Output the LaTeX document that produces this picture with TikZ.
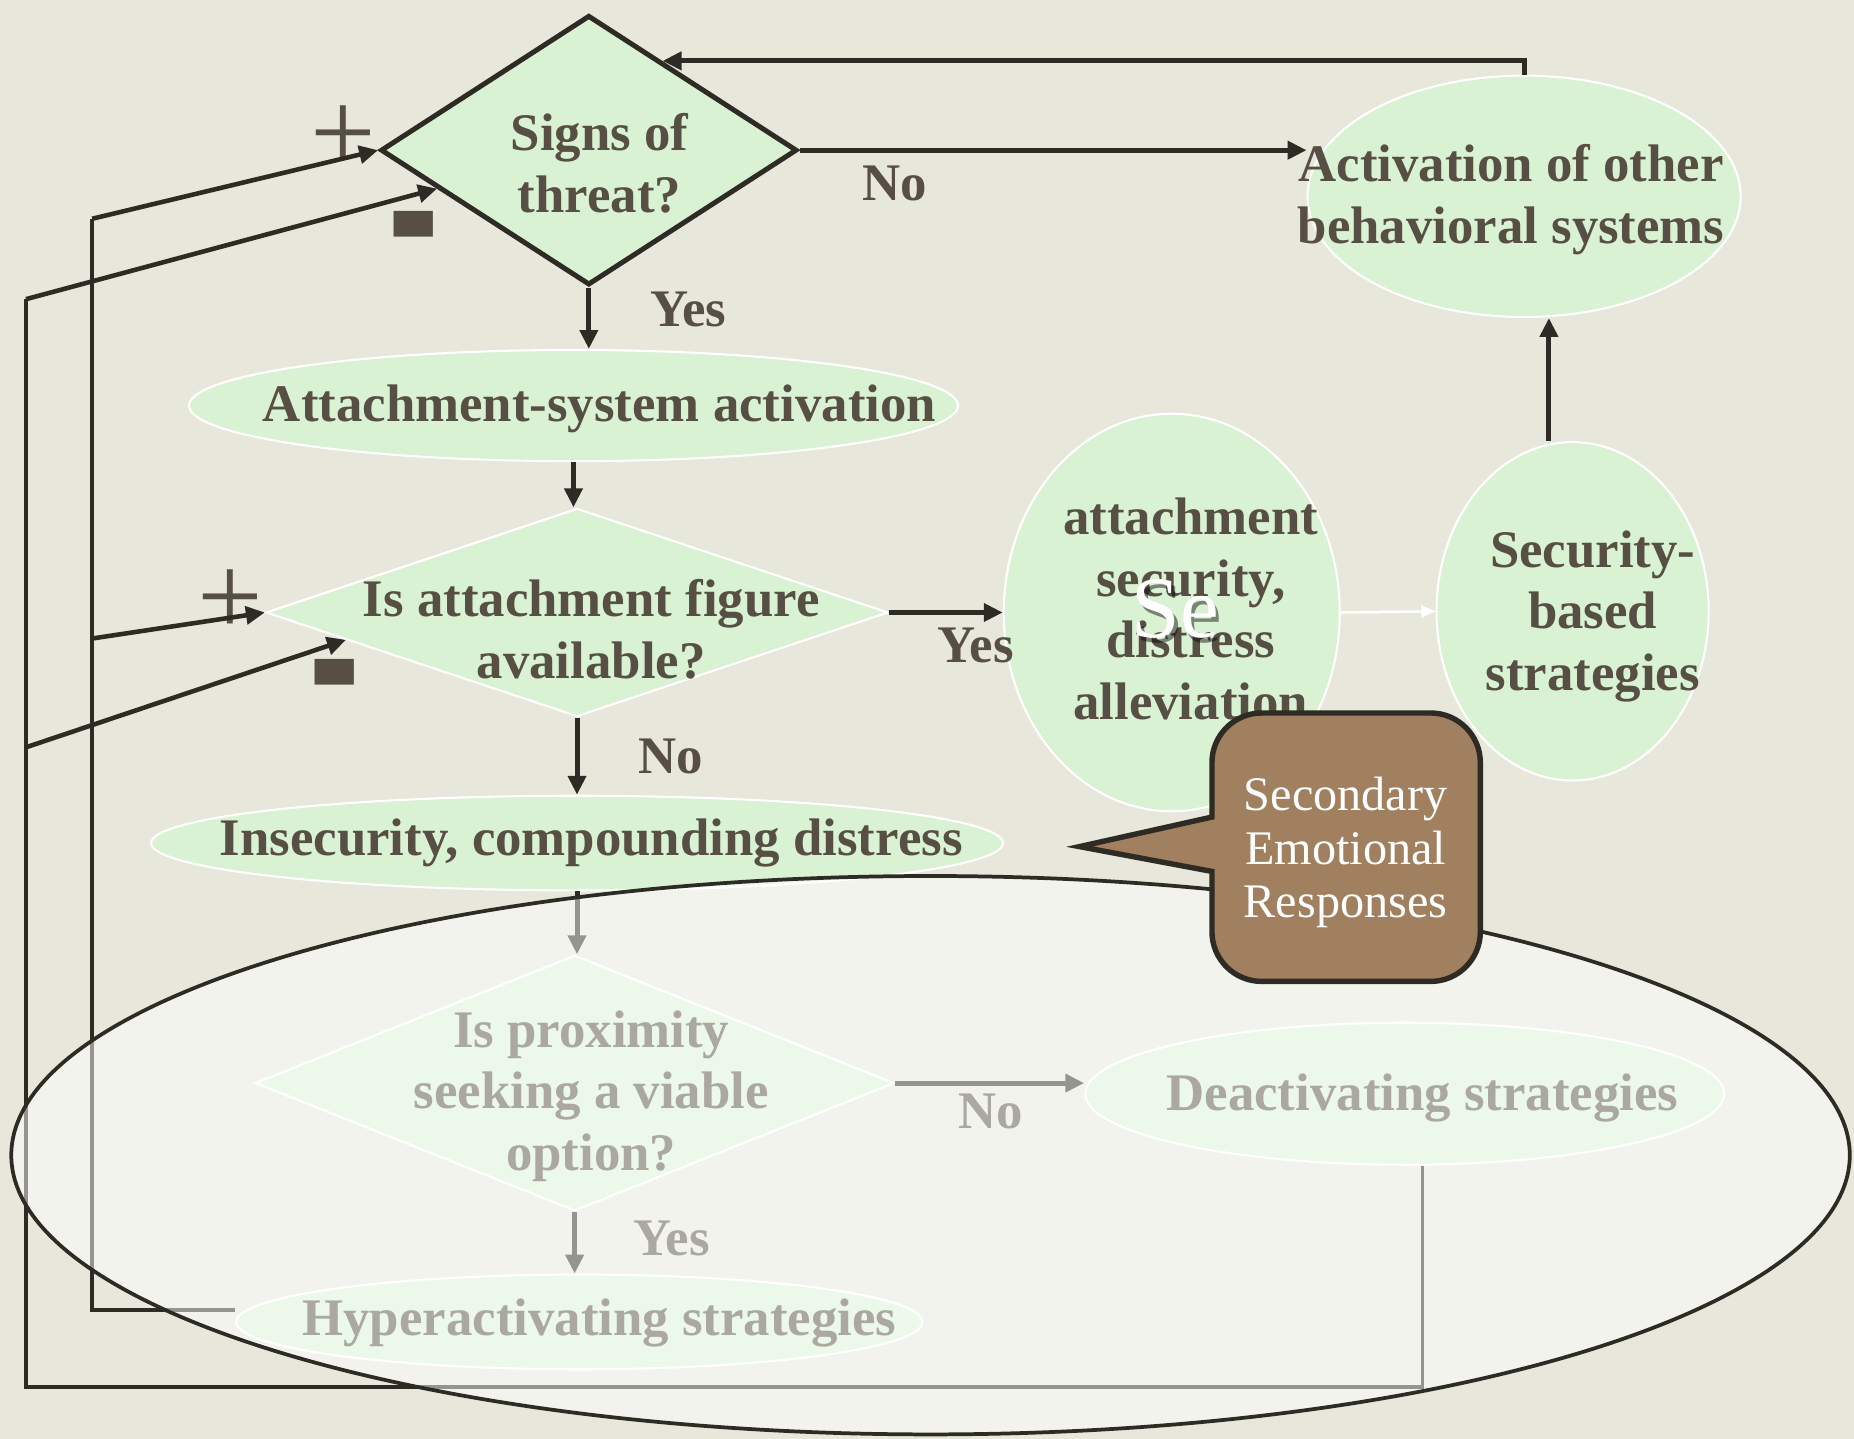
\documentclass[tikz,border=0pt]{standalone}
\usepackage{fontspec}
\setmainfont{Liberation Serif}
\usepackage{graphicx}
\usepackage{tikz}
\usetikzlibrary{arrows.meta}
\usetikzlibrary{shapes.geometric}
\usepackage{xcolor}
\definecolor{paper}{HTML}{E8E7DC}
\definecolor{leaf}{HTML}{D9F2D4}
\definecolor{ink}{HTML}{2E2A24}
\definecolor{lettering}{HTML}{574F44}
\definecolor{bark}{HTML}{A0805F}

\begin{document}
\begin{tikzpicture}[x=0.01cm,y=-0.01cm,
  every node/.style={font=\fontsize{12.7}{14.8}\selectfont\bfseries, text=lettering},
  bubble/.style={shape=ellipse, fill=leaf, draw=white, line width=0.5pt, inner sep=0pt},
  rhomb/.style={shape=diamond, fill=leaf, draw=white, line width=0.5pt, inner sep=0pt},
  word/.style={align=center, inner sep=0pt},
  arr/.style={draw=ink, line width=1.2pt, -{Triangle[length=0.16cm,width=0.15cm]}},
  feed/.style={draw=ink, line width=1.1pt, -{Triangle[length=0.16cm,width=0.15cm]}},
  rail/.style={draw=ink, line width=0.9pt},
  sign/.style={font=\fontsize{28}{28}\selectfont, inner sep=0pt},
  minus/.style={font=\fontsize{28}{28}\selectfont\bfseries, inner sep=0pt}
]
  \fill[paper] (0,0) rectangle (1568,1217);

  %%%%%%% SHAPES
  \node[rhomb, draw=ink, line width=1.2pt, minimum width=3.52cm, minimum height=2.28cm] (threat) at (498,127) {};
  \node[bubble, minimum width=3.66cm, minimum height=2.04cm] (other) at (1289,166) {};
  \node[bubble, minimum width=6.5cm, minimum height=0.94cm] (act) at (485,343) {};
  \node[rhomb, minimum width=5.26cm, minimum height=1.76cm] (avail) at (488,518) {};
  \node[bubble, minimum width=2.84cm, minimum height=3.36cm] (secure) at (991,518) {};
  \node[bubble, minimum width=2.30cm, minimum height=2.86cm] (secbased) at (1330,517) {};
  \node[bubble, minimum width=7.2cm, minimum height=0.80cm] (insec) at (488,713) {};
  \node[rhomb, minimum width=5.40cm, minimum height=2.16cm] (prox) at (486,916) {};
  \node[bubble, minimum width=5.40cm, minimum height=1.20cm] (deact) at (1188,925) {};
  \node[bubble, minimum width=5.80cm, minimum height=0.80cm] (hyper) at (490,1118) {};

  %%%%%%% TEXTS
  \node[word] (threat-t) at (507,138) {Signs of\\threat?};
  \node[word] (other-t) at (1278,169) {Activation of other\\behavioral systems};
  \node[word] (act-t) at (507,346) {Attachment-system activation};
  \node[word] (avail-t) at (500,532) {Is attachment figure\\available?};
  \node[word] (secure-t) at (1007,515) {attachment\\security,\\distress\\alleviation};
  \node[font=\fontsize{21}{21}\selectfont, text=black, text opacity=0.45] (se-s) at (997,519) {Se};
  \node[font=\fontsize{21}{21}\selectfont, text=white] (se) at (994,515) {Se};
  \node[word] (secbased-t) at (1347,521) {Security-\\based\\strategies};
  \node[word] (insec-t) at (500,713) {Insecurity, compounding distress};
  \node[word] (prox-t) at (500,927) {Is proximity\\seeking a viable\\option?};
  \node[word] (deact-t) at (1203,929) {Deactivating strategies};
  \node[word] (hyper-t) at (507,1119) {Hyperactivating strategies};

  \node (yes1) at (582,262) {Yes};
  \node (no1) at (757,155) {No};
  \node (yes2) at (825,546) {Yes};
  \node (no2) at (567,640) {No};
  \node (no3) at (838,940) {No};
  \node (yes3) at (568,1047) {Yes};

  \node[sign] (plus1) at (290,117) {+};
  \node[minus] (minus1) at (350,214) {\scalebox{1.3}[2.6]{-}};
  \node[sign] (plus2) at (195,510) {+};
  \node[minus] (minus2) at (283,593) {\scalebox{1.3}[2.6]{-}};

  %%%%%%% ARROWS
  \draw[arr] (threat.south) -- (threat.south |- act.north);
  \draw[arr] (act.south) -- (act.south |- avail.north);
  \draw[arr] (avail.south) -- (avail.south |- insec.north);
  \draw[arr] (avail.east) -- (secure.west);
  \draw[white, line width=0.6pt, -{Triangle[length=0.12cm,width=0.1cm]}] (secure.east) -- (secbased.west);
  \draw[arr] ([xshift=-0.2cm]secbased.north) -- ([xshift=-0.2cm]secbased.north |- other.south);
  \draw[arr] (threat.east) -- (threat.east -| other.west);
  \path (threat.north) -- (threat.east) coordinate[pos=0.35] (threat-in);
  \draw[arr] (other.north) |- (threat-in);
  \draw[arr] (insec.south) -- (insec.south |- prox.north);
  \draw[arr] (prox.east) -- (prox.east -| deact.west);
  \draw[arr] (prox.south) -- (prox.south |- hyper.north);

  %%%%%%% LOOPS
  \coordinate (plusrail) at (78,185);
  \coordinate (plusfork) at (78,540);
  \draw[rail] ([yshift=.1cm]hyper.west) -| (plusrail);
  \draw[feed] (plusrail) -- (threat.west);
  \draw[feed] (plusfork) -- (avail.west);

  \coordinate (minusrail) at (22,253);
  \coordinate (minusfork) at (22,632);
  \coordinate (minusfoot) at (22,1173);
  \draw[rail] ([xshift=.15cm]deact.south) |- (minusfoot) -- (minusrail);
  \path (threat.west) -- (threat.south) coordinate[pos=0.28] (threat-minus);
  \draw[feed] (minusrail) -- (threat-minus);
  \path (avail.west) -- (avail.south) coordinate[pos=0.26] (avail-minus);
  \draw[feed] (minusfork) -- (avail-minus);

  %%%%%%% VEIL
  \draw[ink, line width=0.9pt, fill=white, fill opacity=0.5] (787,977) ellipse [x radius=7.77cm, y radius=2.36cm];

  %%%%%%% CALLOUT
  \draw[ink, line width=1.3pt, fill=bark] (913,716) -- (1025,691) [rounded corners=.42cm] -- (1025,603) -- (1252,603) -- (1252,830) -- (1025,830) [sharp corners] -- (1025,737) -- cycle;
  \node[font=\fontsize{11.6}{12.9}\selectfont, text=white, align=center] (second) at (1138,721) {Secondary\\Emotional\\Responses};
\end{tikzpicture}
\end{document}
